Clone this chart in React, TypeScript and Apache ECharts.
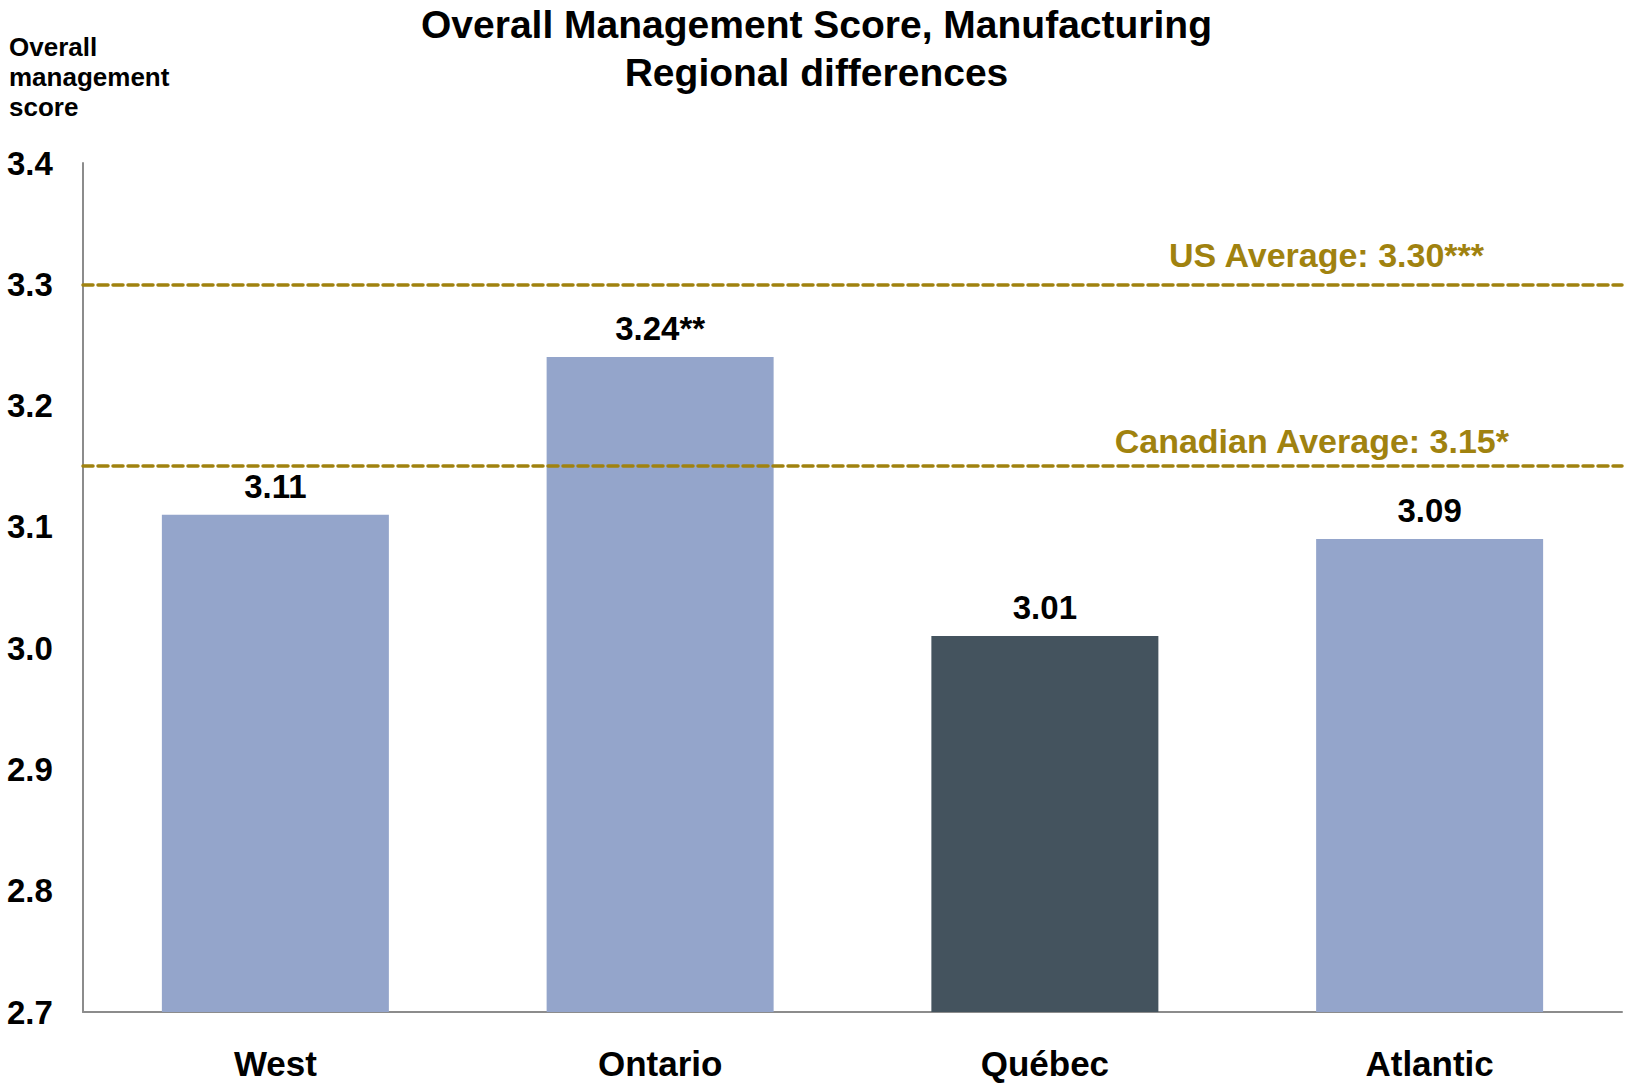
import React, { useEffect, useRef } from "react";
import * as echarts from "echarts";

const categories = ["West", "Ontario", "Québec", "Atlantic"];
const values = [3.11, 3.24, 3.01, 3.09];
const valueLabels = ["3.11", "3.24**", "3.01", "3.09"];
const barColors = ["#94A5CB", "#94A5CB", "#44535E", "#94A5CB"];
const refLines = [
  { name: "US Average: 3.30***", value: 3.3 },
  { name: "Canadian Average: 3.15*", value: 3.15 },
];
const yTicks = { min: 2.7, max: 3.4, interval: 0.1 };

const GOLD = "#A0820F";
const FONT = "'Liberation Sans', Arial, sans-serif";

export default function App() {
  const ref = useRef<HTMLDivElement>(null);
  useEffect(() => {
    document.body.style.margin = "0";
    if (!ref.current) return;
    const chart = echarts.init(ref.current, null, { renderer: "svg" });
    chart.setOption({
      animation: false,
      backgroundColor: "#ffffff",
      textStyle: { fontFamily: FONT },
      title: {
        text: "Overall Management Score, Manufacturing\nRegional differences",
        left: "center",
        top: -5,
        textStyle: {
          fontFamily: FONT,
          fontWeight: "bold",
          fontSize: 39,
          lineHeight: 48,
          color: "#000",
        },
      },
      graphic: [
        {
          type: "text",
          left: 9,
          top: 32,
          style: {
            text: "Overall\nmanagement\nscore",
            fontFamily: FONT,
            fontWeight: "bold",
            fontSize: 26,
            lineHeight: 30,
            fill: "#000",
          },
        },
      ],
      grid: { left: 83, right: 11, top: 163, bottom: 77, containLabel: false },
      xAxis: {
        type: "category",
        data: categories,
        axisLine: { show: true, lineStyle: { color: "#8C8C8C", width: 2 } },
        axisTick: { show: false },
        axisLabel: {
          margin: 34,
          fontFamily: FONT,
          fontWeight: "bold",
          fontSize: 35,
          color: "#000",
        },
      },
      yAxis: {
        type: "value",
        min: yTicks.min,
        max: yTicks.max,
        interval: yTicks.interval,
        splitLine: { show: false },
        axisLine: { show: true, lineStyle: { color: "#8C8C8C", width: 2 } },
        axisTick: { show: false },
        axisLabel: {
          align: "left",
          margin: 76,
          fontFamily: FONT,
          fontWeight: "bold",
          fontSize: 33,
          color: "#000",
          formatter: (v: number) => v.toFixed(1),
        },
      },
      series: [
        {
          type: "bar",
          barWidth: "59%",
          data: values.map((v, i) => ({
            value: v,
            itemStyle: { color: barColors[i] },
            label: { formatter: valueLabels[i] },
          })),
          label: {
            show: true,
            position: "top",
            distance: 12,
            fontFamily: FONT,
            fontWeight: "bold",
            fontSize: 33,
            color: "#000",
          },
          markLine: {
            silent: true,
            symbol: "none",
            lineStyle: { color: GOLD, width: 3.5, type: [10, 5], cap: "round" },
            data: refLines.map((r, i) => ({
              yAxis: r.value,
              label: {
                show: true,
                formatter: r.name,
                position: "insideEndTop",
                distance: i === 0 ? [138, 12] : [113, 8],
                fontFamily: FONT,
                fontWeight: "bold",
                fontSize: 34,
                color: GOLD,
              },
            })),
          },
        },
      ],
    });
    return () => chart.dispose();
  }, []);
  return <div ref={ref} style={{ width: 1633, height: 1089 }} />;
}
